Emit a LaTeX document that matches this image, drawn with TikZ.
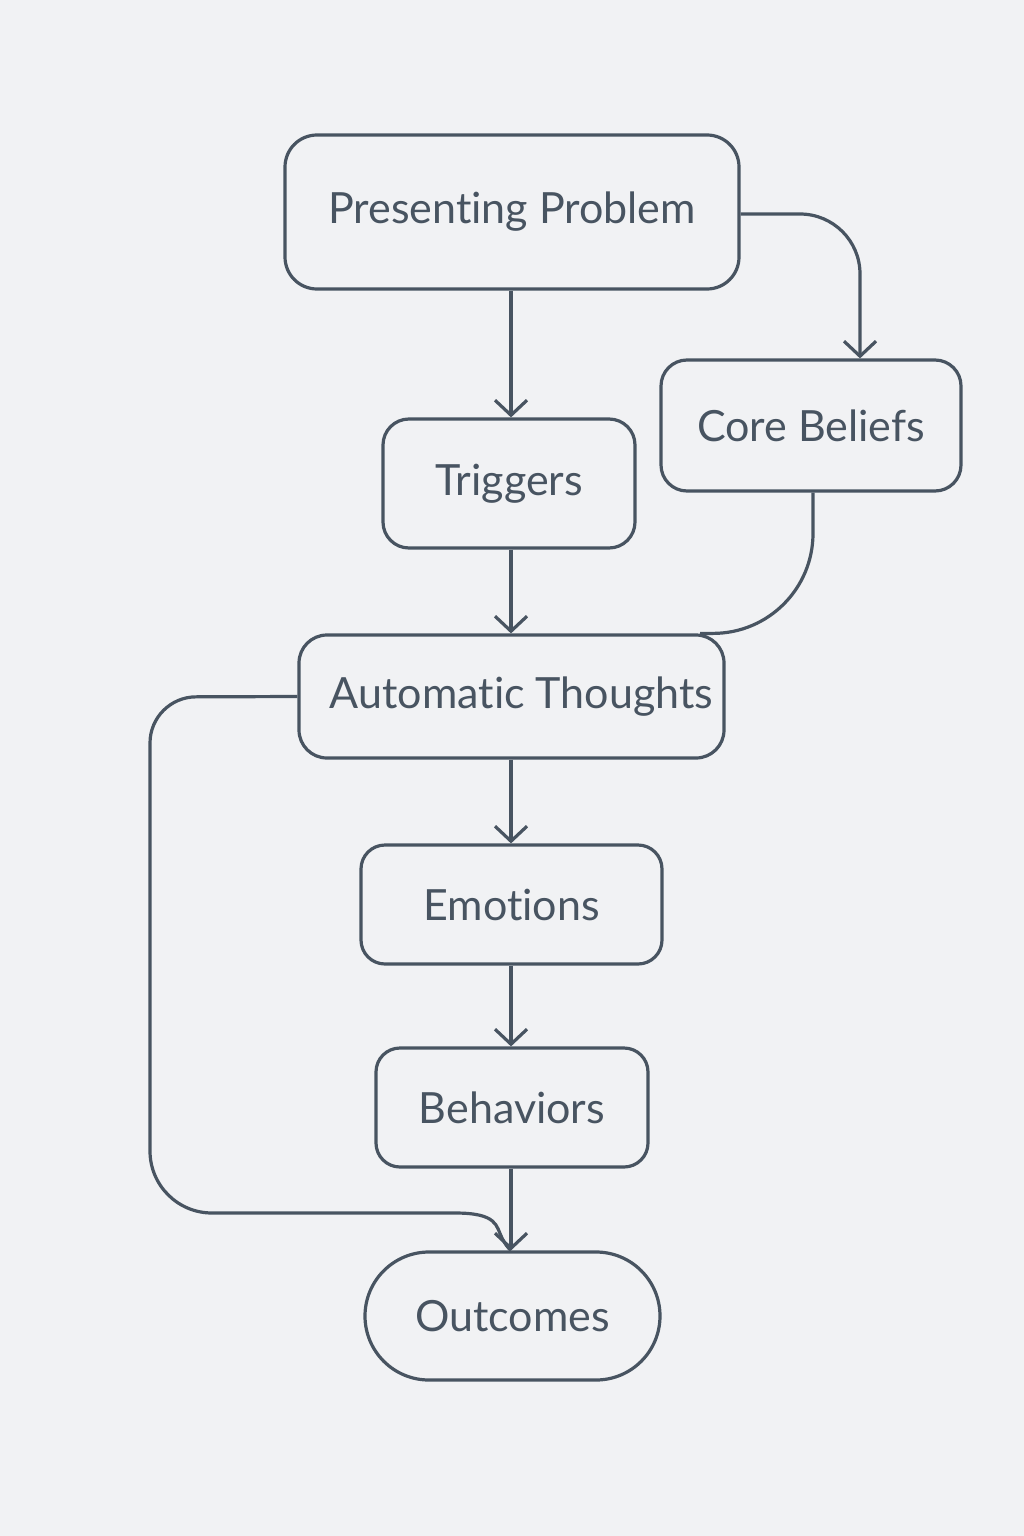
\documentclass[tikz,border=0pt]{standalone}
\usepackage{fontspec}
\setmainfont[Ligatures=NoCommon]{Lato}
\usetikzlibrary{arrows.meta}
\definecolor{ink}{RGB}{72,84,97}
\definecolor{bg}{RGB}{241,242,244}
\tikzset{
  box/.style={draw=ink, line width=3.2pt, rounded corners=#1, text=ink,
    font=\fontsize{43}{48}\selectfont, inner sep=0pt, align=center},
  box/.default=28pt,
  link/.style={draw=ink, line width=3.2pt},
  arr/.style={link, -{Straight Barb[length=15pt,width=32pt,line width=3.2pt]}},
}
\begin{document}
\begin{tikzpicture}[x=1pt,y=-1pt]
\fill[bg] (0,0) rectangle (1024,1536);
\useasboundingbox (0,0) rectangle (1024,1536);

\node[box=32pt, minimum width=454pt, minimum height=154pt] (pp) at (512,212) {Presenting Problem};
\node[box=26pt, minimum width=252pt, minimum height=129pt] (trig) at (509,483.5) {Triggers};
\node[box=26pt, minimum width=300pt, minimum height=131pt] (cb) at (811,425.5) {Core Beliefs};
\node[box=28pt, minimum width=425pt, minimum height=123pt] (at) at (511.5,696.5) {\hspace*{20pt}Automatic Thoughts};
\node[box=24pt, minimum width=301pt, minimum height=119pt] (emo) at (511.5,904.5) {Emotions};
\node[box=24pt, minimum width=272pt, minimum height=119pt] (beh) at (512,1107.5) {Behaviors};
\node[box=64pt, minimum width=295pt, minimum height=128pt] (out) at (512.5,1316) {Outcomes};

\coordinate (x511) at (511,0);
\coordinate (x860) at (860,0);

\draw[arr] (pp.south -| x511) -- (trig.north -| x511);
\draw[arr, rounded corners=60pt] (pp.east |- 0,214) -| (cb.north -| x860);
\draw[arr] (trig.south -| x511) -- (at.north -| x511);
\draw[link, rounded corners=100pt] (cb.south -| 813,0) |- (at.north -| 700,0);
\draw[arr] (at.south -| x511) -- (emo.north -| x511);
\draw[arr] (emo.south -| x511) -- (beh.north -| x511);
\draw[arr] (beh.south -| x511) -- (out.north -| x511);
\draw[link] (at.west) [rounded corners=46pt] -- (150,697) [rounded corners=62pt] -- (150,1213) [sharp corners] -- (455,1213)
  .. controls (498,1213) and (496,1226) .. (502,1238) .. controls (505,1244) and (508,1248) .. (out.north -| x511);
\end{tikzpicture}
\end{document}
